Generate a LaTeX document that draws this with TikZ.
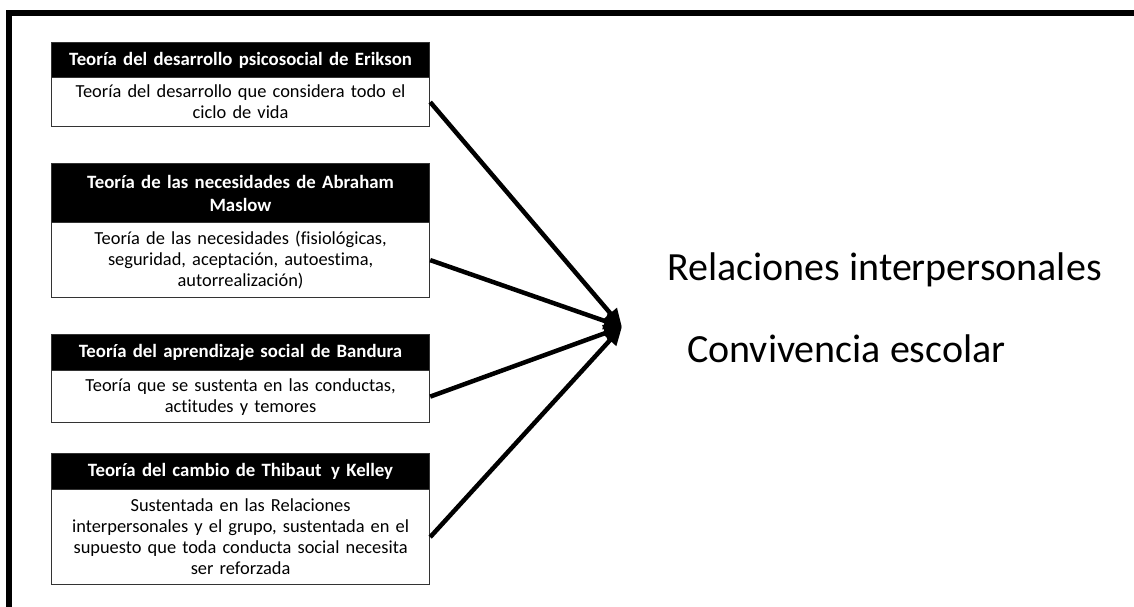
\documentclass[tikz,border=0pt]{standalone}
\usepackage{fontspec}
\setmainfont{Carlito}[Ligatures=NoCommon]
\usetikzlibrary{arrows.meta}
\begin{document}
\begin{tikzpicture}[x=1pt,y=-1pt,
  head/.style={fill=black,draw=black!80,line width=1pt,text=white,font=\fontsize{18.8}{23}\selectfont\bfseries,align=center,inner sep=0pt,minimum width=378pt,text width=374pt,anchor=north west},
  body/.style={fill=white,draw=black!80,line width=1.2pt,font=\fontsize{18.4}{21}\selectfont,align=center,inner sep=0pt,minimum width=378pt,text width=372pt,anchor=north west},
  link/.style={line width=4.5pt,-{Triangle[length=18pt,width=16pt]},shorten <=0pt},
  big/.style={font=\fontsize{40}{44}\selectfont,inner sep=0pt}]
\useasboundingbox (0,0) rectangle (1134,607);
\fill[white] (0,0) rectangle (1134,607);
\draw[line width=6pt] (9,607) -- (9,13) -- (1134,13);

\node[head,minimum height=35pt] (h1) at (51,42) {Teoría del desarrollo psicosocial de Erikson};
\node[body,minimum height=49pt] (b1) at (51,77) {Teoría del desarrollo que considera todo el\\ciclo de vida};

\node[head,minimum height=59pt] (h2) at (51,163) {Teoría de las necesidades de Abraham\\Maslow};
\node[body,minimum height=75pt] (b2) at (51,222) {Teoría de las necesidades (fisiológicas,\\seguridad, aceptación, autoestima,\\autorrealización)};

\node[head,minimum height=36pt] (h3) at (51,334) {Teoría del aprendizaje social de Bandura};
\node[body,minimum height=52pt] (b3) at (51,370) {Teoría que se sustenta en las conductas,\\actitudes y temores};

\node[head,minimum height=36pt] (h4) at (51,453) {Teoría del cambio de Thibaut\, y Kelley};
\node[body,minimum height=95pt] (b4) at (51,489) {Sustentada en las Relaciones\\interpersonales y el grupo, sustentada en el\\supuesto que toda conducta social necesita\\ser reforzada};

\coordinate (tip) at (622,327);
\draw[link] (b1.east) -- (tip);
\draw[link] (b2.east) -- (tip);
\draw[link] (b3.east) -- (tip);
\draw[link] (b4.east) -- (tip);

\node[big,anchor=base west] (rel) at (667,280) {Relaciones interpersonales};
\node[big,anchor=base west] (conv) at (687,362) {Convivencia escolar};
\end{tikzpicture}
\end{document}
